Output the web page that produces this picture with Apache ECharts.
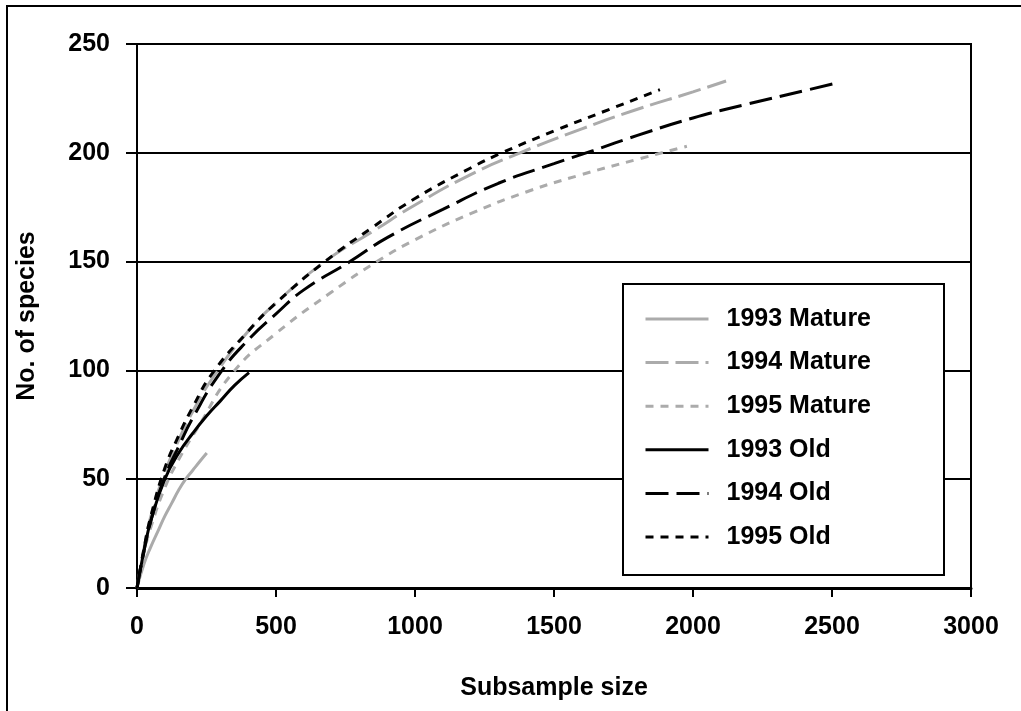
<!DOCTYPE html>
<html>
<head>
<meta charset="utf-8">
<script src="https://cdn.jsdelivr.net/npm/echarts@6/dist/echarts.min.js"></script>
<style>
html,body{margin:0;padding:0;background:#fff;}
#chart{width:1021px;height:711px;}
</style>
</head>
<body>
<div id="chart"></div>
<script>
var seriesNames = ['1993 Mature', '1994 Mature', '1995 Mature', '1993 Old', '1994 Old', '1995 Old'];
var xTicks = [0, 500, 1000, 1500, 2000, 2500, 3000];
var yTicks = [0, 50, 100, 150, 200, 250];

var mature1993 = [[0,0],[25,11],[50,19],[75,26],[100,33],[125,39],[150,45],[175,50],[200,54],[225,58],[251,62]];
var mature1994 = [[0,0],[25,18],[50,33],[100,53],[150,68],[200,81],[280,98],[400,118],[500,131],[676,150],[850,164],[1000,176],[1200,190],[1378,200],[1600,211],[1800,220],[2000,228],[2119,233]];
var mature1995 = [[0,0],[25,16],[50,28],[100,46],[150,59],[220,74],[345,99],[500,117],[700,136],[863,150],[1000,160],[1200,172],[1400,182],[1600,190],[1800,197],[1978,203]];
var old1993 = [[0,0],[25,17],[50,31],[100,50],[150,62],[200,71],[250,79],[300,86],[350,93],[403,99]];
var old1994 = [[0,0],[25,17],[50,31],[100,51],[150,65],[200,78],[300,99],[400,114],[500,126],[600,137],[766,150],[900,161],[1100,174],[1300,186],[1500,195],[1640,201],[1800,208],[2000,216],[2200,222.5],[2400,228.5],[2514,232]];
var old1995 = [[0,0],[25,18],[50,33],[100,55],[150,70],[200,83],[273,99],[400,118],[500,131],[676,150],[850,166],[1000,179],[1200,193],[1313,200],[1500,210],[1700,220],[1881,229]];

var FONT = 'Arial, "Liberation Sans", sans-serif';
var GRAY = '#ababab';
var styles = [
  {color: GRAY, type: 'solid'},
  {color: GRAY, type: [23, 7]},
  {color: GRAY, type: [8, 7]},
  {color: '#000', type: 'solid'},
  {color: '#000', type: [23, 8]},
  {color: '#000', type: [8, 7]}
];
var datas = [mature1993, mature1994, mature1995, old1993, old1994, old1995];

var chart = echarts.init(document.getElementById('chart'), null, {renderer: 'canvas'});
var option = {
  animation: false,
  backgroundColor: '#fff',
  grid: {left: 137, top: 44, right: 50, bottom: 123, show: true, borderColor: '#000', borderWidth: 2, containLabel: false},
  graphic: [
    {type: 'rect', z: 100, shape: {x: 7, y: 6, width: 1100, height: 800}, style: {fill: 'none', stroke: '#000', lineWidth: 2}},
    {type: 'rect', z: 3, shape: {x: 623, y: 284, width: 321, height: 291}, style: {fill: '#fff', stroke: '#000', lineWidth: 2}}
  ],
  legend: {
    orient: 'vertical',
    left: 644,
    top: 306,
    padding: 0,
    z: 5,
    itemWidth: 63,
    itemHeight: 26,
    itemGap: 17.6,
    data: seriesNames,
    itemStyle: {opacity: 0},
    lineStyle: {width: 3},
    textStyle: {fontFamily: FONT, fontWeight: 'bold', fontSize: 25, color: '#000', lineHeight: 26, padding: [0, 0, 0, 13]}
  },
  xAxis: {
    type: 'value', min: 0, max: 3000, interval: 500,
    name: 'Subsample size', nameLocation: 'middle', nameGap: 88,
    nameTextStyle: {fontFamily: FONT, fontWeight: 'bold', fontSize: 25, color: '#000'},
    axisLine: {show: true, lineStyle: {color: '#000', width: 3}},
    axisTick: {show: true, inside: false, length: 9, lineStyle: {color: '#000', width: 2}},
    axisLabel: {margin: 27, fontFamily: FONT, fontWeight: 'bold', fontSize: 25, color: '#000',
      formatter: function (v) { return xTicks.indexOf(v) >= 0 ? String(v) : ''; }},
    splitLine: {show: false}
  },
  yAxis: {
    type: 'value', min: 0, max: 250, interval: 50,
    name: 'No. of species', nameLocation: 'middle', nameGap: 97,
    nameTextStyle: {fontFamily: FONT, fontWeight: 'bold', fontSize: 25, color: '#000'},
    axisLine: {show: true, lineStyle: {color: '#000', width: 2}},
    axisTick: {show: true, inside: false, length: 11, lineStyle: {color: '#000', width: 2}},
    axisLabel: {margin: 27, fontFamily: FONT, fontWeight: 'bold', fontSize: 25, color: '#000',
      formatter: function (v) { return yTicks.indexOf(v) >= 0 ? String(v) : ''; }},
    splitLine: {show: true, lineStyle: {color: '#000', width: 2}}
  },
  series: seriesNames.map(function (name, i) {
    return {
      name: name,
      type: 'line',
      data: datas[i],
      symbol: 'none',
      smooth: 0.5,
      z: 2,
      lineStyle: {color: styles[i].color, width: 3, type: styles[i].type, cap: 'butt'},
      itemStyle: {color: styles[i].color}
    };
  })
};
chart.setOption(option);
</script>
</body>
</html>
